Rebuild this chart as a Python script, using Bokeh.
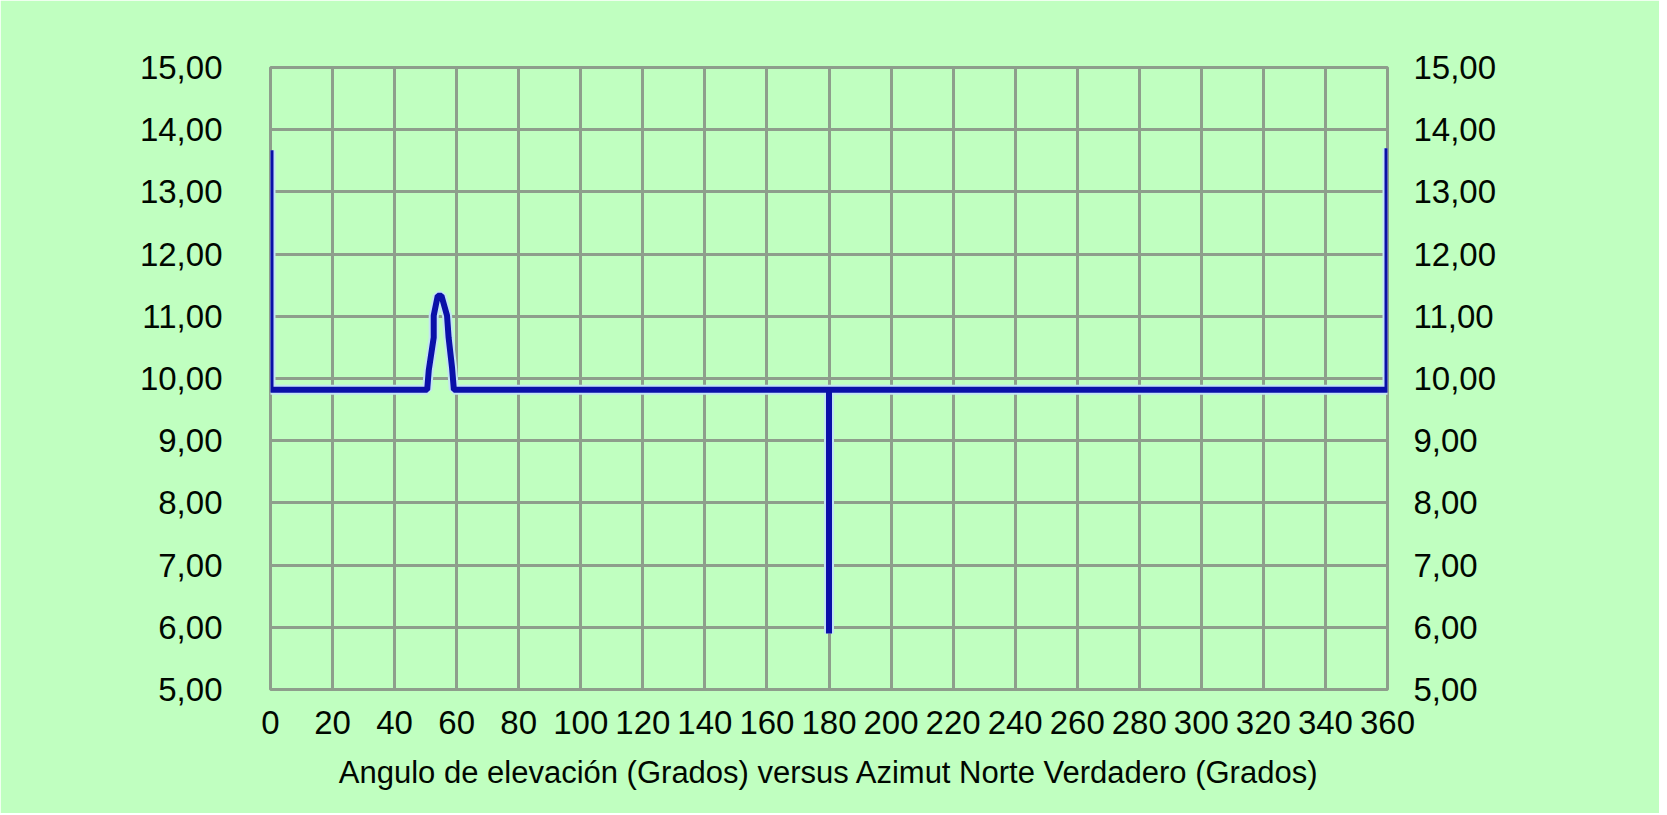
from bokeh.plotting import figure
from bokeh.models import Range1d, LinearAxis, FixedTicker
from bokeh.embed import file_html
from bokeh.resources import INLINE

# ---- data ----
azimut = [0, 0, 50.5, 51, 52.6, 52.6, 53.9, 55.1, 56.9, 57.4, 58.5, 59.1,
          180, 180, 180, 360, 360]
elevacion = [13.67, 9.82, 9.82, 10.13, 10.66, 11.01, 11.33, 11.33, 11.01,
             10.66, 10.18, 9.82, 9.82, 5.9, 9.82, 9.82, 13.7]

x_ticks = list(range(0, 361, 20))
y_ticks = [5, 6, 7, 8, 9, 10, 11, 12, 13, 14, 15]
y_tick_labels = ["5,00", "6,00", "7,00", "8,00", "9,00", "10,00", "11,00",
                 "12,00", "13,00", "14,00", "15,00"]
x_title = "Angulo de elevación (Grados) versus Azimut Norte Verdadero (Grados)"

BG = "#C0FFC0"
GRID = "#8E9E8C"
LINE = "#0A10A8"
FONT = "Liberation Sans"

p = figure(width=1659, height=813, output_backend="svg", toolbar_location=None,
           x_range=Range1d(0, 360), y_range=Range1d(5, 15),
           min_border_left=270, min_border_right=272,
           min_border_top=67, min_border_bottom=124,
           background_fill_color=BG, border_fill_color=BG,
           y_axis_location="left")

p.outline_line_color = GRID
p.outline_line_width = 3

p.line(azimut, elevacion, line_color="#C4E4F4", line_width=10)
p.line(azimut, elevacion, line_color=LINE, line_width=6)

overrides = {t: l for t, l in zip(y_ticks, y_tick_labels)}

def style_axis(ax, standoff):
    ax.axis_line_color = None
    ax.major_tick_line_color = None
    ax.minor_tick_line_color = None
    ax.major_tick_in = 0
    ax.major_tick_out = 0
    ax.major_label_standoff = standoff
    ax.major_label_text_font = FONT
    ax.major_label_text_font_size = "33px"
    ax.major_label_text_color = "#000800"

xa = p.xaxis[0]
xa.ticker = FixedTicker(ticks=x_ticks)
style_axis(xa, 21)
xa.axis_label = x_title
xa.axis_label_text_font = FONT
xa.axis_label_text_font_size = "31px"
xa.axis_label_text_font_style = "normal"
xa.axis_label_text_color = "#000800"
xa.axis_label_standoff = 18

ya = p.yaxis[0]
ya.ticker = FixedTicker(ticks=y_ticks)
ya.major_label_overrides = overrides
style_axis(ya, 48)

yr = LinearAxis(ticker=FixedTicker(ticks=y_ticks))
yr.major_label_overrides = overrides
style_axis(yr, 26)
p.add_layout(yr, "right")

p.xgrid.ticker = FixedTicker(ticks=x_ticks)
p.ygrid.ticker = FixedTicker(ticks=y_ticks)
for g in (p.xgrid[0], p.ygrid[0]):
    g.grid_line_color = GRID
    g.grid_line_width = 3

open("out.html", "w").write(file_html(p, INLINE))
